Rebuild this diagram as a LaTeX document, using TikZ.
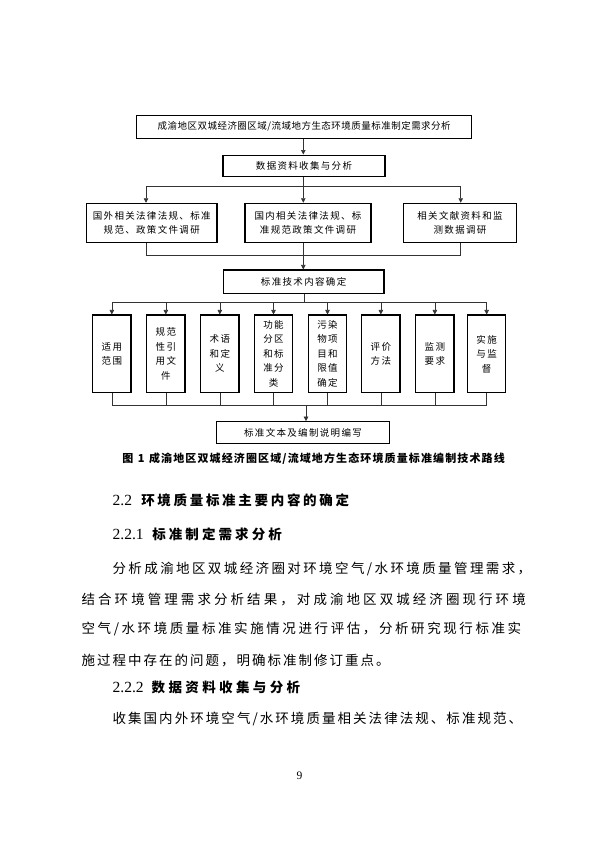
\documentclass[tikz,border=0pt]{standalone}
\usepackage{fontspec}
\setmainfont{Liberation Serif}
\newfontfamily\cjk{Noto Sans CJK SC}
\newfontfamily\cjkls[LetterSpace=14]{Noto Sans CJK SC}
\newfontfamily\cjklstop[LetterSpace=5]{Noto Sans CJK SC}
\usetikzlibrary{arrows.meta}
\def\myspreadend{MYEND}
\def\sprA#1#2{#1\ifx#2\myspreadend\else\hskip 0pt plus 1fil\relax\expandafter\sprA\expandafter#2\fi}
\def\spr#1{\sprA#1\myspreadend}
\tikzset{
  box/.style={draw=black, line width=1.1pt, inner sep=0pt, align=center,
    font=\cjkls\fontsize{9.5}{14}\selectfont},
  vbox/.style={box, minimum width=38.3pt, minimum height=77.7pt,
    font=\cjkls\fontsize{9.5}{14.5}\selectfont},
  conn/.style={draw=black!80, line width=0.6pt},
  arr/.style={conn, -{Triangle[length=4.5pt,width=4.5pt]}},
  txt/.style={anchor=base west, inner sep=0pt, font=\cjk\fontsize{13.5}{16}\selectfont},
}
\begin{document}
\begin{tikzpicture}[x=1pt,y=-1pt]
\fill[white] (0,0) rectangle (600,848);
\useasboundingbox (0,0) rectangle (600,848);

% boxes
\node[box, font=\cjklstop\fontsize{9.5}{14}\selectfont, minimum width=335pt, minimum height=23pt] (top) at (304.2,126.6) {成渝地区双城经济圈区域/流域地方生态环境质量标准制定需求分析};
\node[box, minimum width=162pt, minimum height=21.7pt] (data) at (304,165.9) {数据资料收集与分析};
\node[box, minimum width=130.5pt, minimum height=39.2pt] (lb) at (151.75,222.9) {国外相关法律法规、标准\\规范、政策文件调研};
\node[box, minimum width=126pt, minimum height=39.2pt] (mb) at (308,222.9) {国内相关法律法规、标\\准规范政策文件调研};
\node[box, minimum width=113.4pt, minimum height=39.2pt] (rb) at (460,222.9) {相关文献资料和监\\测数据调研};
\node[box, minimum width=160.7pt, minimum height=23.3pt] (tech) at (303.65,281.65) {标准技术内容确定};

\node[vbox] (b1) at (111.85,353.85) {适用\\范围};
\node[vbox] (b2) at (165.85,353.85) {规范\\性引\\用文\\件};
\node[vbox] (b3) at (219.85,353.85) {术语\\和定\\义};
\node[vbox] (b4) at (273.5,353.85) {功能\\分区\\和标\\准分\\类};
\node[vbox] (b5) at (327.5,353.85) {污染\\物项\\目和\\限值\\确定};
\node[vbox] (b6) at (380.85,353.85) {评价\\方法};
\node[vbox] (b7) at (434.85,353.85) {监测\\要求};
\node[vbox] (b8) at (486.65,353.85) {实施\\与监\\督};

\node[box, minimum width=172.6pt, minimum height=21.6pt] (fin) at (303,432.5) {标准文本及编制说明编写};

% connectors
\coordinate (c0) at (303.3,186.7);
\coordinate (dL) at (146,186.7);
\coordinate (dR) at (460.7,186.7);
\draw[arr] (c0 |- top.south) -- (c0 |- data.north);
\draw[conn] (c0 |- data.south) -- (c0);
\draw[conn] (dL) -- (dR);
\draw[arr] (dL) -- (dL |- lb.north);
\draw[arr] (c0) -- (c0 |- mb.north);
\draw[arr] (dR) -- (dR |- rb.north);

\coordinate (mL) at (146,255);
\coordinate (mR) at (460.7,255);
\coordinate (mC) at (303.3,255);
\draw[conn] (dL |- lb.south) -- (mL) -- (mR) -- (dR |- rb.south);
\draw[conn] (mC |- mb.south) -- (mC);
\draw[arr] (mC) -- (mC |- tech.north);

\coordinate (e0) at (304,302);
\draw[conn] (e0 |- tech.south) -- (e0);
\draw[conn] (b1.north |- e0) -- (b8.north |- e0);
\foreach \b in {b1,b2,b3,b4,b5,b6,b7,b8}{
  \draw[arr] (\b.north |- e0) -- (\b.north);
}
\coordinate (f0) at (306,405);
\draw[conn] (b1.south |- f0) -- (b8.south |- f0);
\foreach \b in {b1,b2,b3,b4,b5,b6,b7,b8}{
  \draw[conn] (\b.south) -- (\b.south |- f0);
}
\draw[arr] (f0) -- (f0 |- fin.north);

% caption
\node[anchor=base west, inner sep=0pt, font=\cjk\bfseries\fontsize{11}{13}\selectfont] (cap) at (122.2,462.2) {图\hskip4.5pt 1\hskip4.5pt\hbox to 355.7pt{\spr{成渝地区双城经济圈区域/流域地方生态环境质量标准编制技术路线}}};

% headings and body
\node[txt] (h1) at (112.5,505.9) {\rmfamily\fontsize{15.5}{16}\selectfont\hbox to 28.6pt{2.2\hss}\cjk\bfseries\fontsize{13.5}{16}\selectfont\hbox to 207.8pt{\spr{环境质量标准主要内容的确定}}};
\node[txt] (h2) at (112.5,539.3) {\rmfamily\fontsize{15.5}{16}\selectfont\hbox to 39.6pt{2.2.1\hss}\cjk\bfseries\fontsize{13.5}{16}\selectfont\hbox to 129.6pt{\spr{标准制定需求分析}}};
\node[txt] (p1) at (112.4,573.4) {\hbox to 418.6pt{\spr{分析成渝地区双城经济圈对环境空气/水环境质量管理需求，}}};
\node[txt] (p2) at (81.4,604.1) {\hbox to 444.2pt{\spr{结合环境管理需求分析结果，对成渝地区双城经济圈现行环境}}};
\node[txt] (p3) at (81.4,633.6) {\hbox to 439.6pt{\spr{空气/水环境质量标准实施情况进行评估，分析研究现行标准实}}};
\node[txt] (p4) at (81.4,665.1) {\hbox to 308pt{\spr{施过程中存在的问题，明确标准制修订重点。}}};
\node[txt] (h3) at (112.5,692.3) {\rmfamily\fontsize{15.5}{16}\selectfont\hbox to 39pt{2.2.2\hss}\cjk\bfseries\fontsize{13.5}{16}\selectfont\hbox to 148.5pt{\spr{数据资料收集与分析}}};
\node[txt] (p5) at (112.4,723.9) {\hbox to 409.6pt{\spr{收集国内外环境空气/水环境质量相关法律法规、标准规范、}}};

\node[inner sep=0pt, font=\rmfamily\fontsize{11.5}{13}\selectfont] (pg) at (299.5,776) {9};
\end{tikzpicture}
\end{document}
